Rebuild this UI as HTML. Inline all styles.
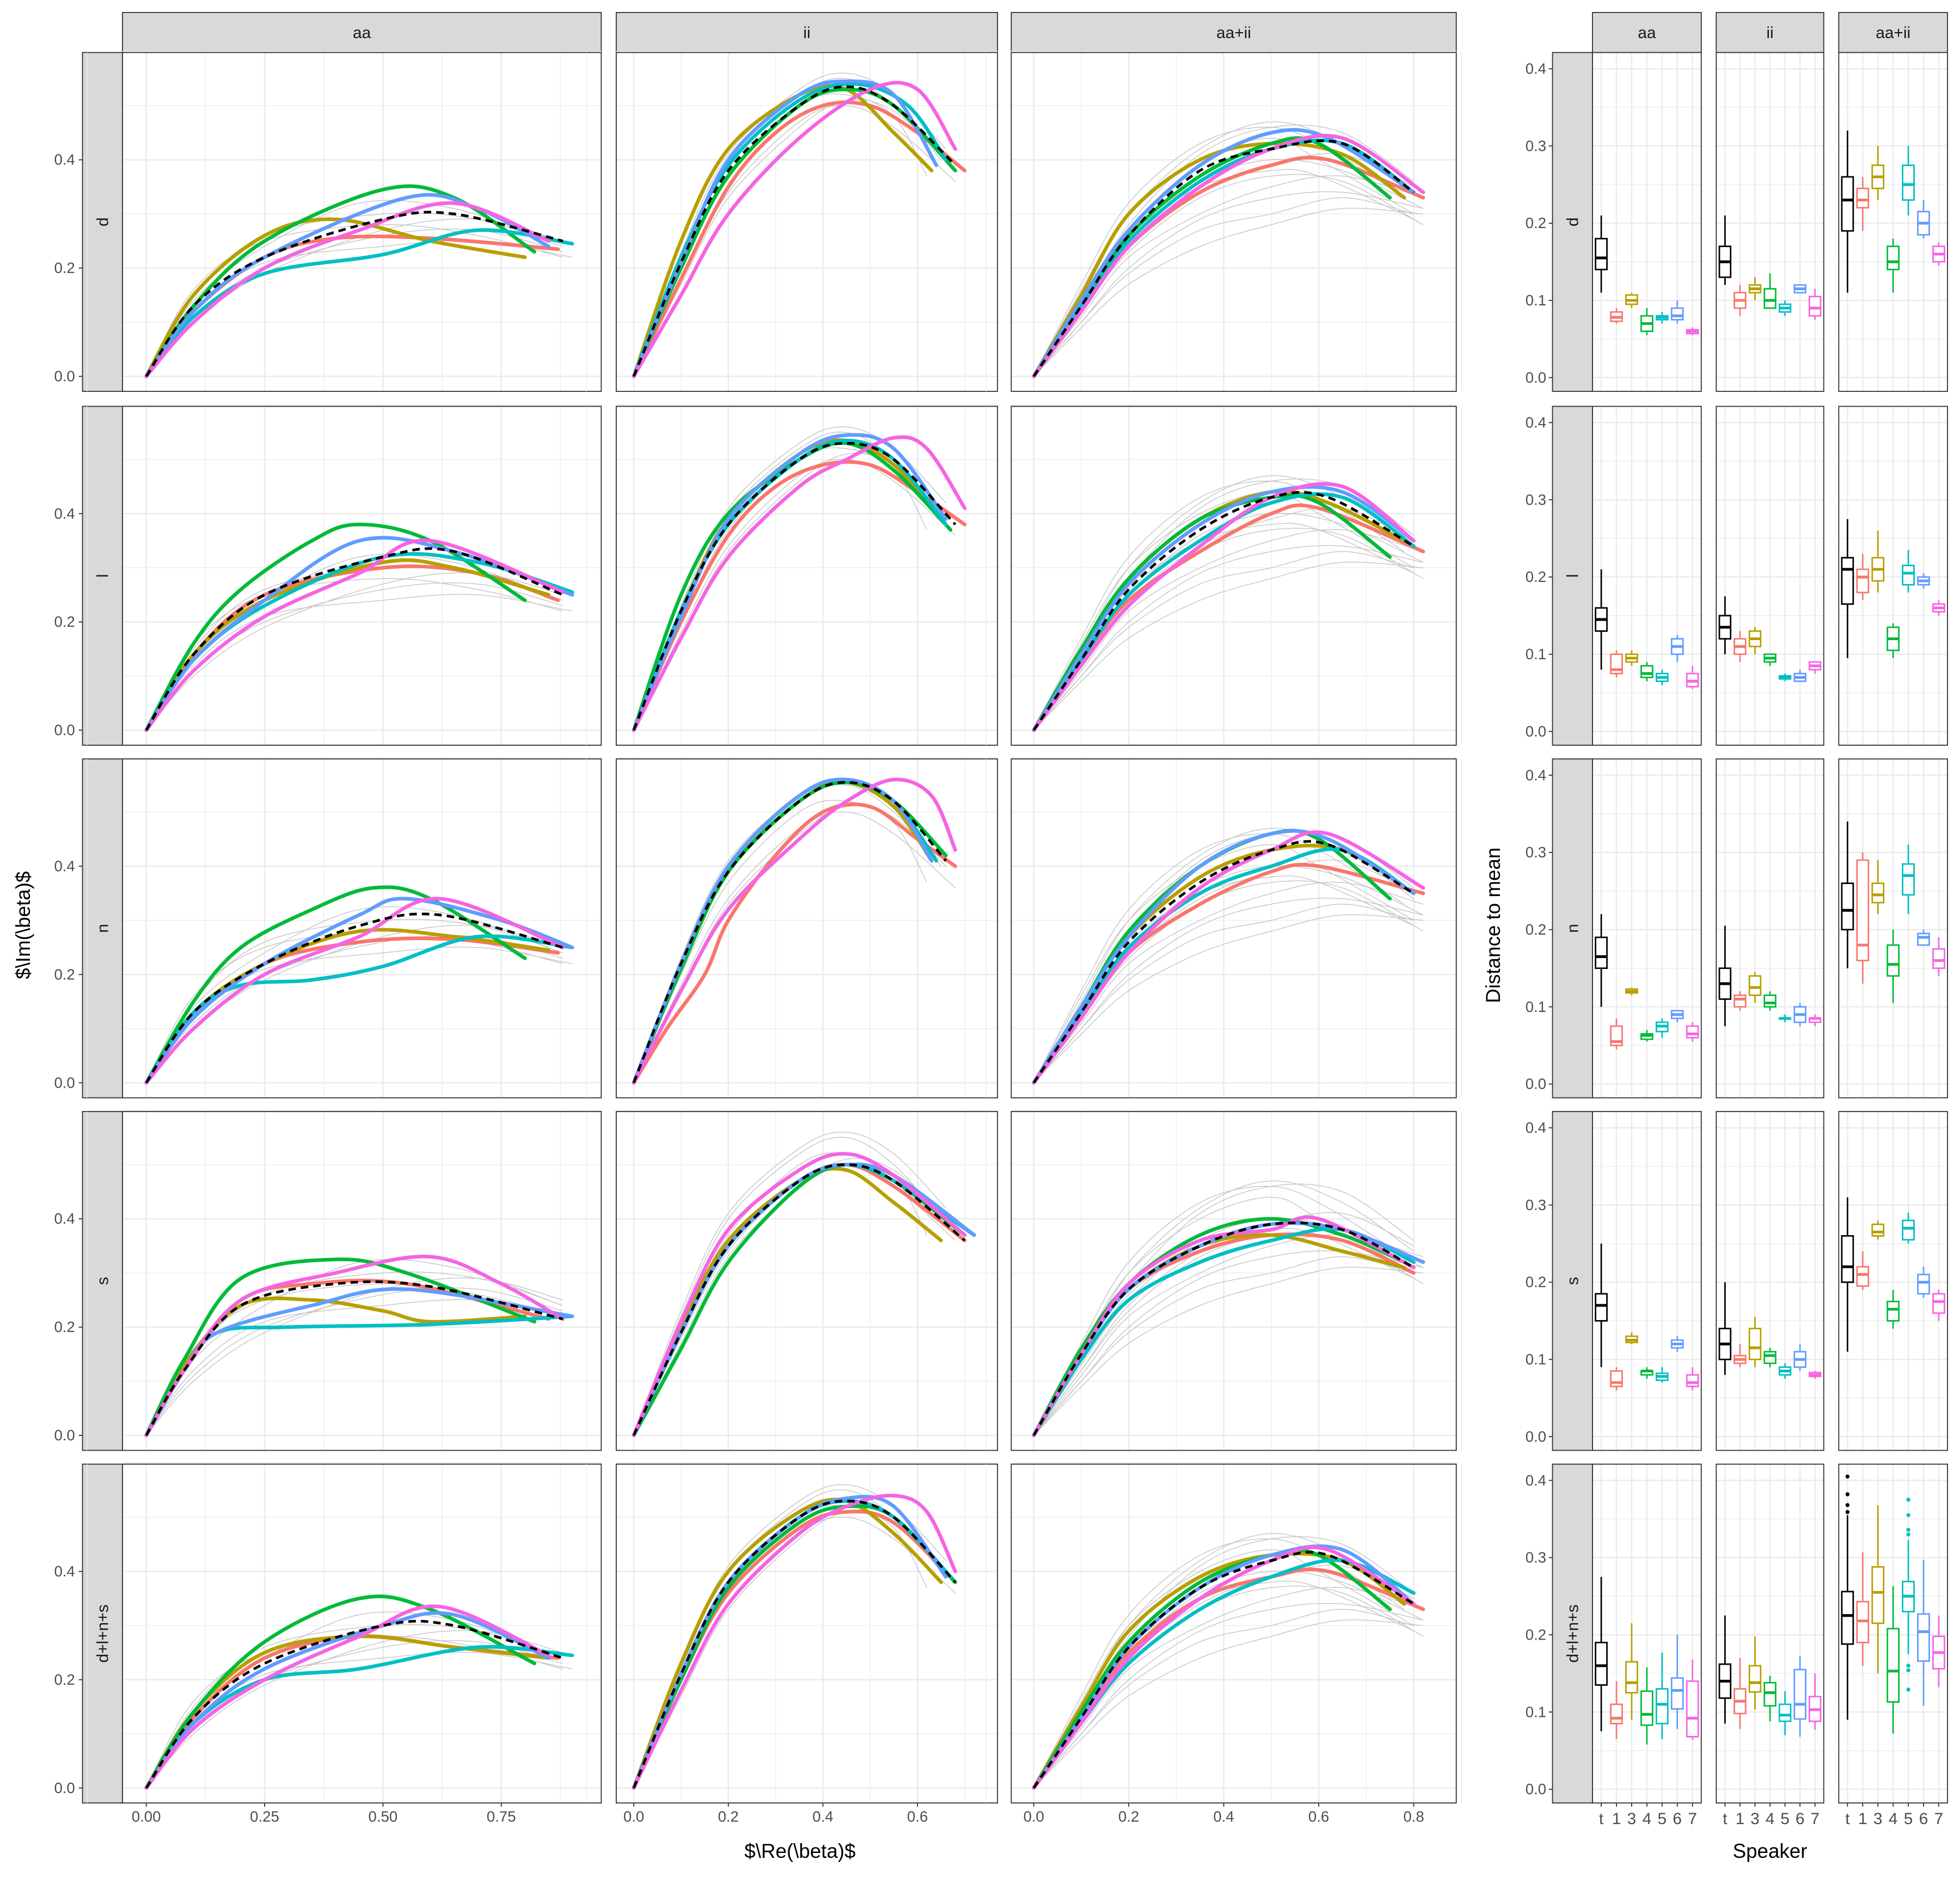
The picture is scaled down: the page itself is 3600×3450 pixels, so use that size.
<!DOCTYPE html>
<html><head><meta charset="utf-8"><style>
html,body{margin:0;padding:0;background:#fff}
svg{display:block}
text{font-family:"Liberation Sans",sans-serif}
</style></head><body>
<svg id="fig" xmlns="http://www.w3.org/2000/svg" width="3600" height="3450" viewBox="0 0 1568 1502" preserveAspectRatio="none"></svg>
<script>
// ---------- data ----------
const rowLabels=['d','l','n','s','d+l+n+s'];
const colLabels=['aa','ii','aa+ii'];
const speakers=['1','3','4','5','6','7'];
const spColors=['#F8766D','#B79F00','#00BA38','#00BFC4','#619CFF','#F564E3'];
const boxCats=['t','1','3','4','5','6','7'];
const xTicksAA=[0,0.25,0.5,0.75];
const xTickLabAA=['0.00','0.25','0.50','0.75'];
const xTicksII=[0,0.2,0.4,0.6];
const xTickLabII=['0.0','0.2','0.4','0.6'];
const xTicksAI=[0,0.2,0.4,0.6,0.8];
const xTickLabAI=['0.0','0.2','0.4','0.6','0.8'];
const yTicksL=[0,0.2,0.4];
const yTickLabL=['0.0','0.2','0.4'];
const yTicksR=[0,0.1,0.2,0.3,0.4];
const yTickLabR=['0.0','0.1','0.2','0.3','0.4'];

// curves per panel: speakers 1,3,4,5,6,7 then mean
const d_aa=[
[[0,0],[0.1,0.12],[0.25,0.22],[0.4,0.255],[0.6,0.255],[0.87,0.235]],
[[0,0],[0.1,0.15],[0.25,0.26],[0.4,0.29],[0.6,0.25],[0.8,0.22]],
[[0,0],[0.1,0.13],[0.25,0.25],[0.5,0.345],[0.65,0.33],[0.82,0.23]],
[[0,0],[0.1,0.11],[0.25,0.19],[0.5,0.225],[0.7,0.27],[0.9,0.245]],
[[0,0],[0.1,0.12],[0.25,0.22],[0.55,0.33],[0.7,0.31],[0.85,0.24]],
[[0,0],[0.1,0.1],[0.25,0.2],[0.45,0.27],[0.65,0.32],[0.85,0.25]],
[[0,0],[0.1,0.13],[0.25,0.22],[0.5,0.29],[0.65,0.3],[0.88,0.25]]];
const d_ii=[
[[0,0],[0.1,0.18],[0.2,0.35],[0.3,0.45],[0.4,0.5],[0.5,0.5],[0.6,0.45],[0.7,0.38]],
[[0,0],[0.1,0.25],[0.2,0.42],[0.35,0.52],[0.45,0.53],[0.55,0.45],[0.63,0.38]],
[[0,0],[0.1,0.2],[0.2,0.37],[0.35,0.5],[0.45,0.53],[0.55,0.5],[0.68,0.38]],
[[0,0],[0.1,0.22],[0.2,0.39],[0.35,0.51],[0.47,0.54],[0.58,0.5],[0.66,0.4]],
[[0,0],[0.1,0.21],[0.2,0.4],[0.35,0.52],[0.45,0.545],[0.55,0.52],[0.64,0.39]],
[[0,0],[0.1,0.15],[0.2,0.3],[0.35,0.44],[0.5,0.53],[0.6,0.53],[0.68,0.42]],
[[0,0],[0.1,0.21],[0.2,0.38],[0.35,0.5],[0.45,0.535],[0.55,0.5],[0.68,0.39]]];
const d_ai=[
[[0,0],[0.1,0.12],[0.2,0.24],[0.35,0.34],[0.5,0.39],[0.62,0.4],[0.82,0.33]],
[[0,0],[0.1,0.15],[0.2,0.3],[0.35,0.4],[0.5,0.43],[0.65,0.41],[0.78,0.33]],
[[0,0],[0.1,0.13],[0.2,0.26],[0.35,0.37],[0.5,0.43],[0.6,0.43],[0.75,0.33]],
[[0,0],[0.1,0.13],[0.2,0.25],[0.35,0.36],[0.5,0.42],[0.65,0.43],[0.8,0.34]],
[[0,0],[0.1,0.14],[0.2,0.27],[0.35,0.39],[0.5,0.45],[0.62,0.44],[0.8,0.34]],
[[0,0],[0.1,0.12],[0.2,0.24],[0.35,0.35],[0.5,0.42],[0.65,0.44],[0.82,0.34]],
[[0,0],[0.1,0.13],[0.2,0.26],[0.35,0.38],[0.5,0.42],[0.65,0.43],[0.8,0.34]]];
const l_aa=[
[[0,0],[0.1,0.14],[0.25,0.25],[0.5,0.3],[0.7,0.29],[0.87,0.24]],
[[0,0],[0.1,0.14],[0.25,0.24],[0.5,0.31],[0.65,0.3],[0.85,0.25]],
[[0,0],[0.1,0.16],[0.2,0.26],[0.35,0.35],[0.45,0.38],[0.6,0.35],[0.8,0.24]],
[[0,0],[0.1,0.13],[0.25,0.23],[0.5,0.32],[0.7,0.31],[0.9,0.255]],
[[0,0],[0.1,0.13],[0.25,0.24],[0.45,0.35],[0.65,0.33],[0.9,0.25]],
[[0,0],[0.1,0.11],[0.25,0.21],[0.45,0.29],[0.6,0.35],[0.88,0.255]],
[[0,0],[0.1,0.14],[0.25,0.25],[0.5,0.32],[0.65,0.33],[0.88,0.25]]];
const l_ii=[
[[0,0],[0.1,0.2],[0.2,0.36],[0.3,0.45],[0.4,0.49],[0.5,0.49],[0.6,0.44],[0.7,0.38]],
[[0,0],[0.1,0.22],[0.2,0.39],[0.35,0.51],[0.45,0.535],[0.55,0.49],[0.65,0.39]],
[[0,0],[0.1,0.25],[0.2,0.4],[0.35,0.5],[0.45,0.53],[0.55,0.48],[0.67,0.37]],
[[0,0],[0.1,0.22],[0.2,0.38],[0.35,0.5],[0.45,0.535],[0.55,0.5],[0.66,0.38]],
[[0,0],[0.1,0.21],[0.2,0.39],[0.35,0.51],[0.45,0.545],[0.55,0.52],[0.66,0.39]],
[[0,0],[0.1,0.17],[0.2,0.32],[0.35,0.45],[0.45,0.5],[0.55,0.54],[0.62,0.52],[0.7,0.41]],
[[0,0],[0.1,0.22],[0.2,0.38],[0.35,0.5],[0.45,0.53],[0.55,0.5],[0.68,0.38]]];
const l_ai=[
[[0,0],[0.1,0.13],[0.2,0.24],[0.35,0.33],[0.5,0.4],[0.6,0.41],[0.82,0.33]],
[[0,0],[0.1,0.14],[0.2,0.28],[0.35,0.39],[0.5,0.44],[0.62,0.42],[0.78,0.35]],
[[0,0],[0.1,0.15],[0.2,0.28],[0.35,0.39],[0.5,0.43],[0.6,0.42],[0.75,0.32]],
[[0,0],[0.1,0.13],[0.2,0.25],[0.35,0.35],[0.5,0.42],[0.65,0.43],[0.8,0.34]],
[[0,0],[0.1,0.14],[0.2,0.27],[0.35,0.38],[0.5,0.44],[0.65,0.44],[0.8,0.35]],
[[0,0],[0.1,0.12],[0.2,0.23],[0.35,0.34],[0.5,0.43],[0.65,0.45],[0.8,0.35]],
[[0,0],[0.1,0.13],[0.2,0.26],[0.35,0.37],[0.5,0.43],[0.62,0.43],[0.8,0.34]]];
const n_aa=[
[[0,0],[0.1,0.12],[0.25,0.22],[0.45,0.26],[0.65,0.265],[0.87,0.24]],
[[0,0],[0.1,0.13],[0.25,0.22],[0.45,0.28],[0.65,0.27],[0.85,0.245]],
[[0,0],[0.1,0.15],[0.2,0.25],[0.35,0.32],[0.48,0.36],[0.6,0.34],[0.8,0.23]],
[[0,0],[0.1,0.13],[0.2,0.18],[0.35,0.19],[0.5,0.215],[0.7,0.27],[0.9,0.25]],
[[0,0],[0.1,0.12],[0.25,0.22],[0.45,0.31],[0.55,0.34],[0.75,0.3],[0.9,0.25]],
[[0,0],[0.1,0.1],[0.25,0.2],[0.45,0.27],[0.62,0.34],[0.88,0.25]],
[[0,0],[0.1,0.13],[0.25,0.22],[0.45,0.29],[0.62,0.31],[0.88,0.25]]];
const n_ii=[
[[0,0],[0.07,0.1],[0.15,0.2],[0.2,0.3],[0.3,0.42],[0.4,0.5],[0.5,0.51],[0.6,0.45],[0.68,0.4]],
[[0,0],[0.1,0.22],[0.2,0.4],[0.35,0.53],[0.45,0.555],[0.55,0.51],[0.63,0.41]],
[[0,0],[0.1,0.21],[0.2,0.39],[0.35,0.52],[0.45,0.555],[0.55,0.52],[0.66,0.42]],
[[0,0],[0.1,0.22],[0.2,0.4],[0.35,0.53],[0.45,0.56],[0.55,0.52],[0.64,0.41]],
[[0,0],[0.1,0.22],[0.2,0.4],[0.35,0.53],[0.45,0.56],[0.55,0.52],[0.63,0.41]],
[[0,0],[0.1,0.17],[0.2,0.32],[0.35,0.45],[0.45,0.52],[0.55,0.56],[0.63,0.53],[0.68,0.43]],
[[0,0],[0.1,0.22],[0.2,0.39],[0.35,0.52],[0.45,0.555],[0.55,0.52],[0.66,0.41]]];
const n_ai=[
[[0,0],[0.1,0.12],[0.2,0.24],[0.35,0.33],[0.5,0.39],[0.6,0.4],[0.82,0.35]],
[[0,0],[0.1,0.14],[0.2,0.27],[0.35,0.38],[0.5,0.43],[0.65,0.43],[0.8,0.35]],
[[0,0],[0.1,0.14],[0.2,0.28],[0.35,0.4],[0.5,0.46],[0.6,0.45],[0.75,0.34]],
[[0,0],[0.1,0.13],[0.2,0.25],[0.35,0.35],[0.5,0.4],[0.65,0.43],[0.8,0.35]],
[[0,0],[0.1,0.14],[0.2,0.27],[0.35,0.4],[0.5,0.46],[0.62,0.45],[0.8,0.35]],
[[0,0],[0.1,0.12],[0.2,0.24],[0.35,0.36],[0.5,0.43],[0.62,0.46],[0.82,0.36]],
[[0,0],[0.1,0.13],[0.2,0.26],[0.35,0.37],[0.5,0.43],[0.62,0.44],[0.8,0.35]]];
const s_aa=[
[[0,0],[0.08,0.12],[0.2,0.25],[0.35,0.28],[0.55,0.28],[0.85,0.215]],
[[0,0],[0.08,0.13],[0.2,0.24],[0.35,0.25],[0.5,0.23],[0.6,0.21],[0.8,0.22]],
[[0,0],[0.08,0.14],[0.2,0.29],[0.4,0.325],[0.55,0.3],[0.82,0.21]],
[[0,0],[0.08,0.12],[0.15,0.19],[0.3,0.2],[0.6,0.205],[0.9,0.22]],
[[0,0],[0.08,0.12],[0.15,0.19],[0.35,0.24],[0.55,0.27],[0.9,0.22]],
[[0,0],[0.08,0.12],[0.2,0.25],[0.4,0.3],[0.6,0.33],[0.75,0.28],[0.88,0.215]],
[[0,0],[0.08,0.12],[0.2,0.24],[0.4,0.28],[0.6,0.275],[0.88,0.215]]];
const s_ii=[
[[0,0],[0.1,0.2],[0.2,0.36],[0.35,0.47],[0.45,0.5],[0.55,0.46],[0.7,0.36]],
[[0,0],[0.1,0.2],[0.2,0.36],[0.35,0.47],[0.45,0.49],[0.55,0.43],[0.65,0.36]],
[[0,0],[0.1,0.16],[0.2,0.32],[0.35,0.46],[0.45,0.5],[0.55,0.47],[0.7,0.37]],
[[0,0],[0.1,0.19],[0.2,0.35],[0.35,0.47],[0.45,0.5],[0.55,0.47],[0.72,0.37]],
[[0,0],[0.1,0.19],[0.2,0.35],[0.35,0.47],[0.45,0.5],[0.55,0.48],[0.72,0.37]],
[[0,0],[0.1,0.21],[0.2,0.38],[0.35,0.49],[0.45,0.52],[0.55,0.48],[0.7,0.37]],
[[0,0],[0.1,0.19],[0.2,0.35],[0.35,0.47],[0.45,0.5],[0.55,0.47],[0.7,0.36]]];
const s_ai=[
[[0,0],[0.1,0.15],[0.2,0.27],[0.35,0.34],[0.5,0.37],[0.65,0.36],[0.8,0.3]],
[[0,0],[0.1,0.15],[0.2,0.27],[0.35,0.35],[0.5,0.37],[0.65,0.34],[0.78,0.31]],
[[0,0],[0.1,0.16],[0.2,0.28],[0.35,0.37],[0.5,0.4],[0.65,0.37],[0.78,0.32]],
[[0,0],[0.1,0.14],[0.2,0.25],[0.35,0.32],[0.5,0.36],[0.65,0.38],[0.8,0.32]],
[[0,0],[0.1,0.15],[0.2,0.27],[0.35,0.35],[0.5,0.39],[0.65,0.38],[0.82,0.32]],
[[0,0],[0.1,0.15],[0.2,0.28],[0.35,0.36],[0.5,0.38],[0.6,0.4],[0.8,0.31]],
[[0,0],[0.1,0.15],[0.2,0.27],[0.35,0.35],[0.5,0.39],[0.65,0.38],[0.8,0.31]]];
const a_aa=[
[[0,0],[0.1,0.13],[0.25,0.24],[0.45,0.28],[0.65,0.26],[0.87,0.24]],
[[0,0],[0.1,0.14],[0.25,0.25],[0.45,0.28],[0.65,0.26],[0.85,0.24]],
[[0,0],[0.1,0.14],[0.25,0.27],[0.45,0.35],[0.6,0.33],[0.82,0.23]],
[[0,0],[0.1,0.12],[0.25,0.2],[0.45,0.22],[0.7,0.26],[0.9,0.245]],
[[0,0],[0.1,0.12],[0.25,0.22],[0.5,0.3],[0.65,0.32],[0.85,0.24]],
[[0,0],[0.1,0.11],[0.25,0.2],[0.45,0.28],[0.62,0.335],[0.85,0.245]],
[[0,0],[0.1,0.13],[0.25,0.23],[0.5,0.3],[0.65,0.3],[0.88,0.24]]];
const a_ii=[
[[0,0],[0.1,0.2],[0.2,0.36],[0.35,0.48],[0.45,0.51],[0.55,0.49],[0.68,0.38]],
[[0,0],[0.1,0.23],[0.2,0.4],[0.35,0.51],[0.45,0.53],[0.55,0.47],[0.65,0.38]],
[[0,0],[0.1,0.2],[0.2,0.37],[0.35,0.49],[0.45,0.52],[0.55,0.5],[0.68,0.38]],
[[0,0],[0.1,0.21],[0.2,0.38],[0.35,0.5],[0.45,0.53],[0.55,0.5],[0.67,0.39]],
[[0,0],[0.1,0.21],[0.2,0.38],[0.35,0.5],[0.45,0.535],[0.55,0.52],[0.66,0.39]],
[[0,0],[0.1,0.18],[0.2,0.34],[0.35,0.47],[0.45,0.52],[0.55,0.54],[0.62,0.51],[0.68,0.4]],
[[0,0],[0.1,0.21],[0.2,0.38],[0.35,0.5],[0.45,0.53],[0.55,0.5],[0.68,0.38]]];
const a_ai=[
[[0,0],[0.1,0.13],[0.2,0.25],[0.35,0.35],[0.5,0.39],[0.62,0.4],[0.82,0.33]],
[[0,0],[0.1,0.15],[0.2,0.29],[0.35,0.39],[0.5,0.43],[0.65,0.42],[0.78,0.34]],
[[0,0],[0.1,0.14],[0.2,0.27],[0.35,0.38],[0.5,0.43],[0.6,0.43],[0.75,0.33]],
[[0,0],[0.1,0.12],[0.2,0.23],[0.35,0.33],[0.5,0.39],[0.65,0.42],[0.8,0.36]],
[[0,0],[0.1,0.13],[0.2,0.26],[0.35,0.37],[0.5,0.43],[0.65,0.44],[0.8,0.34]],
[[0,0],[0.1,0.12],[0.2,0.24],[0.35,0.35],[0.5,0.42],[0.62,0.44],[0.8,0.34]],
[[0,0],[0.1,0.13],[0.2,0.26],[0.35,0.37],[0.5,0.42],[0.62,0.43],[0.8,0.34]]];
// individual (gray) tokens per column
const gray_aa=[
[[0,0],[0.1,0.15],[0.25,0.26],[0.5,0.3],[0.7,0.29],[0.88,0.24]],
[[0,0],[0.1,0.11],[0.25,0.2],[0.5,0.26],[0.7,0.27],[0.88,0.23]],
[[0,0],[0.1,0.14],[0.25,0.24],[0.45,0.32],[0.65,0.31],[0.85,0.25]],
[[0,0],[0.1,0.12],[0.25,0.21],[0.5,0.24],[0.7,0.25],[0.9,0.22]],
[[0,0],[0.1,0.16],[0.25,0.25],[0.5,0.28],[0.7,0.26],[0.88,0.22]],
[[0,0],[0.1,0.1],[0.25,0.19],[0.5,0.27],[0.7,0.29],[0.88,0.25]]];
const gray_ii=[
[[0,0],[0.1,0.22],[0.2,0.4],[0.35,0.52],[0.45,0.55],[0.55,0.5],[0.65,0.4]],
[[0,0],[0.1,0.18],[0.2,0.34],[0.35,0.47],[0.45,0.5],[0.55,0.46],[0.68,0.36]],
[[0,0],[0.1,0.2],[0.2,0.37],[0.35,0.5],[0.45,0.52],[0.55,0.48],[0.62,0.37]],
[[0,0],[0.1,0.23],[0.2,0.41],[0.35,0.53],[0.45,0.56],[0.55,0.52],[0.66,0.42]],
[[0,0],[0.1,0.17],[0.2,0.33],[0.35,0.46],[0.45,0.51],[0.55,0.49],[0.66,0.4]]];
const gray_ai=[
[[0,0],[0.1,0.15],[0.2,0.3],[0.35,0.42],[0.5,0.47],[0.65,0.43],[0.8,0.34]],
[[0,0],[0.1,0.1],[0.2,0.19],[0.35,0.27],[0.5,0.3],[0.65,0.33],[0.8,0.3]],
[[0,0],[0.1,0.13],[0.2,0.25],[0.35,0.36],[0.5,0.4],[0.65,0.38],[0.82,0.31]],
[[0,0],[0.1,0.16],[0.2,0.3],[0.35,0.4],[0.5,0.44],[0.6,0.4],[0.8,0.3]],
[[0,0],[0.1,0.11],[0.2,0.22],[0.35,0.3],[0.5,0.35],[0.65,0.37],[0.82,0.33]],
[[0,0],[0.1,0.12],[0.2,0.23],[0.35,0.33],[0.5,0.37],[0.65,0.36],[0.82,0.28]],
[[0,0],[0.1,0.14],[0.2,0.28],[0.35,0.41],[0.5,0.46],[0.65,0.45],[0.8,0.36]],
[[0,0],[0.1,0.09],[0.2,0.17],[0.35,0.24],[0.5,0.28],[0.65,0.31],[0.82,0.3]],
[[0,0],[0.1,0.17],[0.2,0.32],[0.35,0.43],[0.5,0.46],[0.62,0.42],[0.78,0.33]],
[[0,0],[0.1,0.1],[0.2,0.2],[0.35,0.29],[0.5,0.33],[0.65,0.34],[0.82,0.31]],
[[0,0],[0.1,0.12],[0.2,0.24],[0.35,0.34],[0.5,0.39],[0.65,0.41],[0.8,0.35]],
[[0,0],[0.1,0.14],[0.2,0.26],[0.35,0.35],[0.5,0.38],[0.6,0.37],[0.8,0.29]]];

// boxplots [min,q1,median,q3,max] for t,1,3,4,5,6,7
const box_d_aa=[[0.11,0.14,0.155,0.18,0.21],[0.07,0.073,0.078,0.085,0.09],[0.09,0.095,0.1,0.107,0.11],[0.055,0.06,0.07,0.08,0.09],[0.07,0.075,0.078,0.08,0.085],[0.07,0.075,0.08,0.09,0.1],[0.055,0.057,0.06,0.062,0.065]];
const box_d_ii=[[0.12,0.13,0.15,0.17,0.21],[0.08,0.09,0.1,0.11,0.12],[0.1,0.11,0.115,0.12,0.13],[0.09,0.09,0.1,0.115,0.135],[0.08,0.085,0.09,0.095,0.1],[0.11,0.11,0.115,0.12,0.12],[0.075,0.08,0.09,0.105,0.115]];
const box_d_ai=[[0.11,0.19,0.23,0.26,0.32],[0.19,0.22,0.23,0.245,0.26],[0.23,0.245,0.26,0.275,0.3],[0.11,0.14,0.15,0.17,0.18],[0.21,0.23,0.25,0.275,0.3],[0.18,0.185,0.2,0.215,0.23],[0.145,0.15,0.16,0.17,0.175]];
const box_l_aa=[[0.08,0.13,0.145,0.16,0.21],[0.07,0.075,0.08,0.1,0.105],[0.085,0.09,0.095,0.1,0.105],[0.065,0.07,0.075,0.085,0.09],[0.06,0.065,0.07,0.075,0.08],[0.09,0.1,0.11,0.12,0.125],[0.055,0.058,0.065,0.075,0.085]];
const box_l_ii=[[0.1,0.12,0.135,0.15,0.175],[0.09,0.1,0.11,0.12,0.13],[0.1,0.11,0.12,0.13,0.135],[0.085,0.09,0.095,0.1,0.1],[0.065,0.068,0.07,0.072,0.075],[0.065,0.065,0.07,0.075,0.08],[0.075,0.08,0.085,0.09,0.09]];
const box_l_ai=[[0.095,0.165,0.21,0.225,0.275],[0.17,0.18,0.2,0.21,0.23],[0.18,0.195,0.21,0.225,0.26],[0.095,0.105,0.12,0.135,0.14],[0.18,0.19,0.205,0.215,0.235],[0.185,0.19,0.195,0.2,0.205],[0.15,0.155,0.16,0.165,0.17]];
const box_n_aa=[[0.1,0.15,0.165,0.19,0.22],[0.045,0.05,0.055,0.075,0.085],[0.115,0.118,0.12,0.123,0.125],[0.055,0.058,0.063,0.065,0.07],[0.06,0.068,0.075,0.08,0.085],[0.08,0.085,0.09,0.095,0.095],[0.055,0.06,0.065,0.075,0.08]];
const box_n_ii=[[0.075,0.11,0.13,0.15,0.205],[0.095,0.1,0.11,0.115,0.12],[0.105,0.115,0.125,0.14,0.145],[0.095,0.1,0.105,0.115,0.12],[0.08,0.085,0.085,0.085,0.09],[0.075,0.08,0.09,0.1,0.105],[0.075,0.08,0.085,0.085,0.09]];
const box_n_ai=[[0.15,0.2,0.225,0.26,0.34],[0.13,0.16,0.18,0.29,0.3],[0.22,0.235,0.245,0.26,0.29],[0.105,0.14,0.155,0.18,0.2],[0.22,0.245,0.27,0.285,0.31],[0.18,0.18,0.19,0.195,0.2],[0.14,0.15,0.16,0.175,0.19]];
const box_s_aa=[[0.09,0.15,0.17,0.185,0.25],[0.06,0.065,0.07,0.085,0.09],[0.12,0.122,0.125,0.13,0.135],[0.075,0.08,0.085,0.085,0.09],[0.07,0.073,0.078,0.082,0.09],[0.11,0.115,0.12,0.125,0.13],[0.06,0.065,0.07,0.08,0.09]];
const box_s_ii=[[0.08,0.1,0.12,0.14,0.2],[0.09,0.095,0.1,0.105,0.12],[0.09,0.1,0.115,0.14,0.155],[0.09,0.095,0.105,0.11,0.115],[0.075,0.08,0.085,0.09,0.095],[0.085,0.09,0.1,0.11,0.12],[0.075,0.078,0.08,0.083,0.085]];
const box_s_ai=[[0.11,0.2,0.22,0.26,0.31],[0.19,0.195,0.21,0.22,0.24],[0.255,0.26,0.265,0.275,0.28],[0.14,0.15,0.165,0.175,0.19],[0.25,0.255,0.27,0.28,0.29],[0.18,0.185,0.2,0.21,0.22],[0.15,0.16,0.175,0.185,0.19]];
const box_a_aa=[[0.075,0.135,0.16,0.19,0.275],[0.065,0.085,0.092,0.11,0.14],[0.09,0.125,0.138,0.165,0.215],[0.058,0.083,0.097,0.127,0.158],[0.065,0.085,0.11,0.13,0.177],[0.078,0.104,0.128,0.144,0.2],[0.064,0.068,0.092,0.14,0.168]];
const box_a_ii=[[0.085,0.118,0.14,0.162,0.225],[0.078,0.098,0.114,0.13,0.17],[0.103,0.126,0.138,0.16,0.198],[0.088,0.108,0.125,0.138,0.147],[0.07,0.088,0.096,0.11,0.127],[0.068,0.091,0.11,0.155,0.172],[0.077,0.088,0.103,0.12,0.15]];
const box_a_ai=[[0.09,0.188,0.225,0.256,0.355],[0.16,0.19,0.218,0.243,0.307],[0.15,0.215,0.255,0.288,0.368],[0.072,0.113,0.153,0.208,0.263],[0.175,0.23,0.25,0.269,0.323],[0.108,0.166,0.204,0.227,0.297],[0.132,0.156,0.177,0.198,0.225]];
const out_a_ai_t=[0.405,0.382,0.368,0.359];
const out_a_ai_5=[0.375,0.355,0.336,0.33,0.16,0.154,0.129];

// ---------- layout ----------
const NS='http://www.w3.org/2000/svg';
const svg=document.getElementById('fig');
function el(tag,attrs,parent){const e=document.createElementNS(NS,tag);for(const k in attrs)e.setAttribute(k,attrs[k]);(parent||svg).appendChild(e);return e;}
const rowTop=[42,325,607,889,1171], PH=271;
const colL=[{x0:98,x1:481,o:117,s:378.7,ticks:xTicksAA,lab:xTickLabAA,max:0.95},
            {x0:493,x1:798,o:507,s:378.3,ticks:xTicksII,lab:xTickLabII,max:0.75},
            {x0:809,x1:1165,o:827,s:380,ticks:xTicksAI,lab:xTickLabAI,max:0.9}];
const colR=[{x0:1274,x1:1361},{x0:1373,x1:1459},{x0:1471,x1:1558}];
const curveSets=[[d_aa,d_ii,d_ai],[l_aa,l_ii,l_ai],[n_aa,n_ii,n_ai],[s_aa,s_ii,s_ai],[a_aa,a_ii,a_ai]];
const graySets=[gray_aa,gray_ii,gray_ai];
const boxSets=[[box_d_aa,box_d_ii,box_d_ai],[box_l_aa,box_l_ii,box_l_ai],[box_n_aa,box_n_ii,box_n_ai],[box_s_aa,box_s_ii,box_s_ai],[box_a_aa,box_a_ii,box_a_ai]];
const yL=(r,v)=>rowTop[r]+259-v*433;
const yR=(r,v)=>rowTop[r]+260-v*617.5;
function smooth(pts){let d='M'+pts[0][0].toFixed(2)+','+pts[0][1].toFixed(2);
 for(let i=0;i<pts.length-1;i++){const p0=pts[Math.max(0,i-1)],p1=pts[i],p2=pts[i+1],p3=pts[Math.min(pts.length-1,i+2)];
  const c1=[p1[0]+(p2[0]-p0[0])/6,p1[1]+(p2[1]-p0[1])/6],c2=[p2[0]-(p3[0]-p1[0])/6,p2[1]-(p3[1]-p1[1])/6];
  d+='C'+c1[0].toFixed(2)+','+c1[1].toFixed(2)+' '+c2[0].toFixed(2)+','+c2[1].toFixed(2)+' '+p2[0].toFixed(2)+','+p2[1].toFixed(2);}
 return d;}
function strip(x,y,w,h,label,rot){const g=el('g',{});
 el('rect',{x:x,y:y,width:w,height:h,fill:'#D9D9D9',stroke:'#333',"stroke-width":0.8},g);
 const cx=x+w/2,cy=y+h/2;
 const t=el('text',{x:cx,y:cy+4.5,"text-anchor":"middle","font-size":13,fill:'#1A1A1A'},g);
 if(rot)t.setAttribute('transform','rotate(-90 '+cx+' '+cy+')'); t.textContent=label;}

colL.forEach((c,i)=>strip(c.x0,10,c.x1-c.x0,32,colLabels[i],false));
colR.forEach((c,i)=>strip(c.x0,10,c.x1-c.x0,32,colLabels[i],false));

for(let r=0;r<5;r++){
 const top=rowTop[r];
 strip(66,top,32,PH,rowLabels[r],true);
 strip(1242,top,32,PH,rowLabels[r],true);
 colL.forEach((c,ci)=>{
  const g=el('g',{});
  const cid='clip'+r+'_'+ci;
  const cp=el('clipPath',{id:cid},g);el('rect',{x:c.x0,y:top,width:c.x1-c.x0,height:PH},cp);
  el('rect',{x:c.x0,y:top,width:c.x1-c.x0,height:PH,fill:'#fff'},g);
  const X=v=>c.o+v*c.s;
  const step=c.ticks[1]-c.ticks[0];
  for(let v=-step/2;v<=c.max+0.01;v+=step/2){const major=Math.abs(v/step-Math.round(v/step))<0.01;
   el('line',{x1:X(v),x2:X(v),y1:top,y2:top+PH,stroke:'#EBEBEB',"stroke-width":major?1.1:0.55},g);}
  for(let v=0;v<=0.6;v+=0.1){const major=Math.round(v*10)%2===0;
   el('line',{x1:c.x0,x2:c.x1,y1:yL(r,v),y2:yL(r,v),stroke:'#EBEBEB',"stroke-width":major?1.1:0.55},g);}
  const cg=el('g',{"clip-path":'url(#'+cid+')'},g);
  const grays=graySets[ci];
  grays.forEach((cv,gi)=>{const p=el('path',{d:smooth(cv.map(q=>[X(q[0]),yL(r,q[1])])),fill:'none',stroke:'#C4C4C4',"stroke-width":0.6},cg);
   });
  const set=curveSets[r][ci];
  for(let si=0;si<6;si++){const p=el('path',{d:smooth(set[si].map(q=>[X(q[0]),yL(r,q[1])])),fill:'none',stroke:spColors[si],"stroke-width":2.9,"stroke-linecap":"round"},cg);
   }
  const m=el('path',{d:smooth(set[6].map(q=>[X(q[0]),yL(r,q[1])])),fill:'none',stroke:'#000',"stroke-width":2.1,"stroke-dasharray":"6,4"},cg);
  
  el('rect',{x:c.x0,y:top,width:c.x1-c.x0,height:PH,fill:'none',stroke:'#333',"stroke-width":0.8},g);
  if(ci===0){yTicksL.forEach((v,k)=>{el('line',{x1:63,x2:66,y1:yL(r,v),y2:yL(r,v),stroke:'#333',"stroke-width":0.8});
   const t=el('text',{x:60,y:yL(r,v)+4,"text-anchor":"end","font-size":12,fill:'#4D4D4D'});t.textContent=yTickLabL[k];});}
  if(r===4){c.ticks.forEach((v,k)=>{el('line',{x1:X(v),x2:X(v),y1:top+PH,y2:top+PH+3,stroke:'#333',"stroke-width":0.8});
   const t=el('text',{x:X(v),y:top+PH+15,"text-anchor":"middle","font-size":12,fill:'#4D4D4D'});t.textContent=c.lab[k];});}
 });
 colR.forEach((c,ci)=>{
  const g=el('g',{});
  el('rect',{x:c.x0,y:top,width:c.x1-c.x0,height:PH,fill:'#fff'},g);
  const sp=(c.x1-c.x0-14)/6; const X=i=>c.x0+7+i*sp;
  for(let v=0;v<=0.42;v+=0.05){const major=Math.round(v*100)%10===0;
   el('line',{x1:c.x0,x2:c.x1,y1:yR(r,v),y2:yR(r,v),stroke:'#EBEBEB',"stroke-width":major?1.1:0.55},g);}
  boxCats.forEach((k,i)=>el('line',{x1:X(i),x2:X(i),y1:top,y2:top+PH,stroke:'#EBEBEB',"stroke-width":1.1},g));
  const bs=boxSets[r][ci];
  bs.forEach((b,i)=>{const col=i===0?'#000':spColors[i-1];const w=sp*0.75;
   const bg=el('g',{},g);
   el('line',{x1:X(i),x2:X(i),y1:yR(r,b[0]),y2:yR(r,b[4]),stroke:col,"stroke-width":1.2},bg);
   el('rect',{x:X(i)-w/2,y:yR(r,b[3]),width:w,height:Math.max(0.5,yR(r,b[1])-yR(r,b[3])),fill:'#fff',stroke:col,"stroke-width":1.2},bg);
   el('line',{x1:X(i)-w/2,x2:X(i)+w/2,y1:yR(r,b[2]),y2:yR(r,b[2]),stroke:col,"stroke-width":2.2},bg);});
  if(r===4&&ci===2){out_a_ai_t.forEach(v=>el('circle',{cx:X(0),cy:yR(r,v),r:1.6,fill:'#000'},g));
   out_a_ai_5.forEach(v=>el('circle',{cx:X(4),cy:yR(r,v),r:1.6,fill:spColors[3]},g));}
  el('rect',{x:c.x0,y:top,width:c.x1-c.x0,height:PH,fill:'none',stroke:'#333',"stroke-width":0.8},g);
  if(ci===0){yTicksR.forEach((v,k)=>{el('line',{x1:1239,x2:1242,y1:yR(r,v),y2:yR(r,v),stroke:'#333',"stroke-width":0.8});
   const t=el('text',{x:1237,y:yR(r,v)+4,"text-anchor":"end","font-size":12,fill:'#4D4D4D'});t.textContent=yTickLabR[k];});}
  if(r===4){boxCats.forEach((k,i)=>{el('line',{x1:X(i),x2:X(i),y1:top+PH,y2:top+PH+3,stroke:'#333',"stroke-width":0.8});
   const t=el('text',{x:X(i),y:top+PH+17,"text-anchor":"middle","font-size":13,fill:'#4D4D4D'});t.textContent=k;});}
 });
}
let t;
t=el('text',{x:640,y:1486,"text-anchor":"middle","font-size":16,fill:'#000'});t.textContent='$\\Re(\\beta)$';
t=el('text',{x:24,y:740,"text-anchor":"middle","font-size":16,fill:'#000',transform:'rotate(-90 24 740)'});t.textContent='$\\Im(\\beta)$';
t=el('text',{x:1416,y:1486,"text-anchor":"middle","font-size":16,fill:'#000'});t.textContent='Speaker';
t=el('text',{x:1200,y:740,"text-anchor":"middle","font-size":16,fill:'#000',transform:'rotate(-90 1200 740)'});t.textContent='Distance to mean';
</script>
</body></html>
